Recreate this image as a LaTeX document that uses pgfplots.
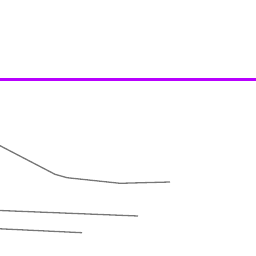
\documentclass[border=0pt]{standalone}
\usepackage{pgfplots}
\pgfplotsset{compat=1.18}
\definecolor{vio}{HTML}{B800FF}
\definecolor{gr}{HTML}{777777}
\begin{document}
\begin{tikzpicture}
\begin{axis}[width=256pt,height=256pt,scale only axis,hide axis,
  xmin=0,xmax=256,ymin=0,ymax=256,y dir=reverse,clip=true]
\path (rel axis cs:0,0) rectangle (rel axis cs:1,1);
\addplot[vio,line width=3.5pt] coordinates {(-5,79.4) (261,79.4)};
\addplot[gr,line width=1.3pt] coordinates {(0,145.7) (55,174.3) (67,177.7) (120,183.3) (170,182)};
\addplot[gr,line width=1.3pt] coordinates {(0,210.5) (138,216)};
\addplot[gr,line width=1.3pt] coordinates {(0,228.8) (82,232.7)};
\end{axis}
\end{tikzpicture}
\end{document}
